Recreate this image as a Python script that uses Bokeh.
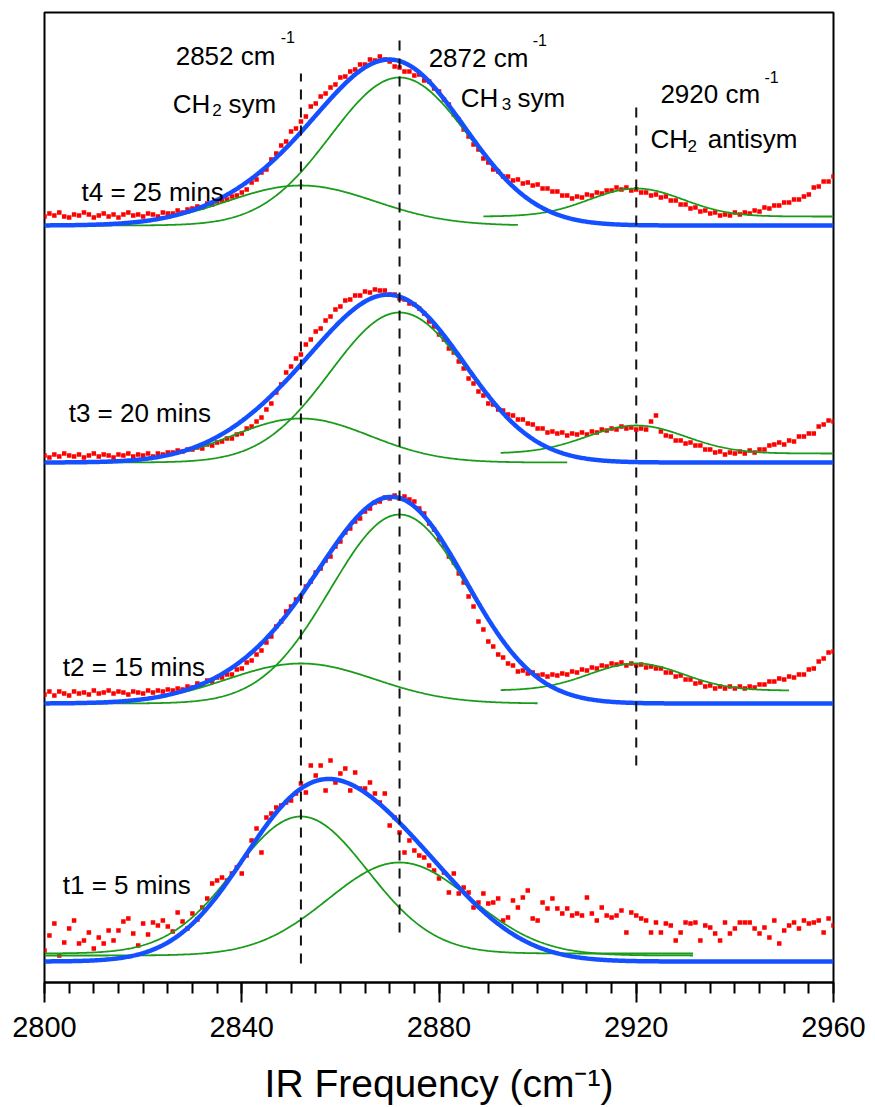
import numpy as np
from bokeh.plotting import figure
from bokeh.models import Range1d, SingleIntervalTicker, Label
from bokeh.embed import file_html
from bokeh.resources import INLINE

# ---------------- data ----------------
freq = list(range(2800, 2961))          # measured frequencies (cm^-1), 1 cm^-1 step

spectra = ["t1 = 5 mins", "t2 = 15 mins", "t3 = 20 mins", "t4 = 25 mins"]
offsets = [21, 279, 520, 757]            # vertical stacking offsets (a.u.)

# measured spectra (a.u. above each offset)
red_t1 = [11, 26, 38, 6, 19, 33, 41, 18, 21, 29, 13, 24, 18, 31,
          21, 31, 40, 43, 28, 16, 38, 27, 39, 36, 41, 35, 30, 49, 40, 33,
          48, 42, 54, 63,
          78, 81, 84, 81, 88, 94, 88, 106, 121, 133, 109, 144, 148, 154, 156, 159,
          161, 168, 178, 169, 196, 186, 196, 171, 201, 179, 188, 193, 171, 189, 173, 173,
          179, 168, 159, 168, 136, 144, 129, 109, 121, 111, 106, 104, 96, 91,
          83, 89, 69, 88, 68, 74, 69, 54, 59, 68,
          58, 59, 63, 41, 44, 61, 54, 64, 71, 43,
          41, 59, 53, 63, 53, 48, 53, 46, 48, 46,
          64, 48, 41, 54, 46, 44, 46, 51, 29, 49,
          46, 43, 41, 29, 39, 29, 38, 36, 21, 29,
          39, 38, 39, 21, 36, 34, 28, 21, 39, 28,
          33, 39, 39, 39, 33, 28, 34, 24, 41, 18,
          31, 36, 39, 33, 41, 38, 39, 41, 29, 43, 36]
red_t2 = [9, 12, 8, 12, 10, 8, 12, 10, 11, 9, 13, 10, 11, 13, 10, 12, 11, 9, 12, 11,
          10, 13, 11, 13, 12, 14, 13, 15, 14, 17,
          16, 20, 19, 23, 22, 26, 26, 29, 29, 34,
          35, 41, 43, 49, 53, 61, 67, 77, 82, 92,
          97, 104, 107, 117, 122, 131, 135, 143, 147, 157,
          162, 171, 175, 182, 185, 192, 195, 201, 202, 206,
          205, 208, 205, 207, 204, 202, 195, 190, 180, 174,
          164, 158, 147, 141, 130, 121, 107, 97, 82, 74,
          62, 57, 49, 46, 40, 38, 32, 33, 30, 31,
          28, 29, 27, 29, 28, 30, 29, 32, 31, 34,
          33, 36, 35, 38, 37, 40, 39, 41, 38, 40,
          38, 39, 36, 37, 35, 35, 31, 31, 27, 28,
          24, 24, 20, 21, 17, 18, 15, 17, 15, 17,
          15, 17, 15, 17, 16, 19, 19, 22, 22, 25,
          24, 27, 26, 29, 29, 34, 35, 42, 45, 51, 52]
red_t3 = [7, 5, 8, 6, 9, 7, 6, 8, 5, 7, 9, 6, 8, 7, 5, 8, 7, 9, 6, 8,
          7, 9, 6, 9, 8, 10, 10, 12, 11, 13,
          13, 15, 14, 18, 17, 20, 21, 24, 24, 28,
          29, 34, 36, 41, 45, 53, 59, 70, 78, 90,
          96, 104, 108, 118, 123, 131, 134, 142, 146, 153,
          156, 162, 163, 167, 167, 171, 170, 173, 172, 172,
          168, 168, 164, 163, 159, 158, 154, 149, 141, 136,
          128, 123, 114, 110, 101, 94, 84, 79, 71, 67,
          59, 58, 53, 52, 48, 47, 43, 43, 39, 38,
          34, 34, 30, 31, 29, 30, 27, 29, 28, 30,
          28, 31, 30, 33, 32, 34, 33, 36, 34, 35,
          33, 34, 33, 41, 47, 31, 27, 26, 22, 22,
          19, 20, 17, 17, 13, 13, 10, 11, 8, 10,
          9, 11, 9, 12, 10, 13, 13, 17, 18, 20,
          18, 22, 21, 26, 26, 29, 29, 36, 38, 42, 41]
red_t4 = [9, 12, 10, 13, 9, 8, 11, 10, 13, 11, 8, 10, 12, 9, 11, 8, 11, 13, 10, 11,
          9, 12, 11, 9, 13, 12, 12, 15, 13, 16,
          17, 19, 18, 22, 21, 24, 25, 26, 29, 30,
          33, 36, 43, 46, 53, 56, 66, 72, 80, 84,
          94, 97, 104, 109, 119, 122, 129, 132, 138, 141,
          148, 149, 154, 156, 161, 161, 166, 165, 169, 166,
          164, 159, 158, 154, 154, 150, 151, 145, 144, 137,
          134, 126, 121, 111, 106, 96, 89, 81, 76, 67,
          63, 56, 54, 49, 49, 45, 46, 42, 43, 40,
          41, 37, 37, 34, 34, 30, 30, 27, 29, 28,
          31, 30, 33, 32, 35, 35, 38, 36, 38, 35,
          36, 33, 33, 30, 31, 28, 29, 25, 25, 21,
          21, 17, 18, 14, 15, 12, 13, 10, 11, 10,
          13, 11, 13, 12, 15, 14, 18, 17, 20, 20,
          23, 23, 26, 26, 29, 31, 38, 39, 44, 44, 49]
red_data = [red_t1, red_t2, red_t3, red_t4]

# fitted Gaussian components (per spectrum t1..t4)
peak_centers = [2852, 2872, 2920]
amp_2852 = [137, 40, 44, 40]
sig_2852 = [13.5, 15, 14, 15]
base_2852 = [8, 0, 0, 0]
end_2852 = [2931.5, 2900, 2906, 2896]
amp_2872 = [93, 189, 150, 148]
sig_2872 = [14.5, 14, 14, 14]
base_2872 = [6, 0, 0, 0]
end_2872 = [2931.5, 2925, 2941, 2950]
amp_2920 = [None, 27, 28, 28]
sig_2920 = [None, 9.5, 10, 9.5]
base_2920 = [None, 13, 9, 9]
start_2920 = [None, 2892.5, 2892.5, 2889]
end_2920 = [None, 2951, 2960, 2960]

# dashed peak markers
marker_x = [2852, 2872, 2920]
marker_top = [909, 942, 882]
marker_bottom = [19, 50, 217]

# annotation texts and their anchor points (data units)
label_positions = [(2803.7, 98), (2803.7, 316), (2804.9, 570), (2807.5, 791)]
peak_texts = [("2852 cm", 2826.6, 927, "26px"), ("-1", 2847.9, 946, "16px"),
              ("CH", 2826.0, 879, "26px"), ("2", 2834.0, 873, "17px"), ("sym", 2837.3, 879, "26px"),
              ("2872 cm", 2877.9, 925, "26px"), ("-1", 2899.0, 943, "16px"),
              ("CH", 2884.4, 885, "26px"), ("3", 2892.7, 879, "17px"), ("sym", 2895.9, 885, "26px"),
              ("2920 cm", 2924.9, 889, "26px"), ("-1", 2946.0, 906, "16px"),
              ("CH", 2922.9, 844, "26px"), ("2", 2930.4, 837, "17px"), ("antisym", 2934.5, 844, "26px")]
x_title = "IR Frequency (cm\u207b\u00b9)"

# ---------------- plot ----------------
FONT = "Liberation Sans"
RED, BLUE, GREEN = "#ff0000", "#1450ff", "#1a9c1a"

p = figure(width=875, height=1107, x_range=Range1d(2800, 2960), y_range=Range1d(0, 970),
           output_backend="svg", toolbar_location=None,
           min_border_left=44, min_border_right=42, min_border_top=12, min_border_bottom=125)
p.yaxis.visible = False
p.xgrid.visible = False
p.ygrid.visible = False
p.outline_line_color = "black"
p.outline_line_width = 2
p.background_fill_color = "white"
p.border_fill_color = "white"

ax = p.xaxis[0]
ax.ticker = SingleIntervalTicker(interval=40, num_minor_ticks=8)
ax.axis_line_width = 2
ax.axis_line_color = "black"
ax.major_tick_in = 0
ax.major_tick_out = 20
ax.major_tick_line_width = 2
ax.minor_tick_in = 0
ax.minor_tick_out = 11
ax.minor_tick_line_width = 2
ax.major_label_text_font = FONT
ax.major_label_text_font_size = "29px"
ax.major_label_text_color = "black"
ax.major_label_standoff = 14
ax.axis_label = x_title
ax.axis_label_text_font = FONT
ax.axis_label_text_font_size = "39px"
ax.axis_label_text_font_style = "normal"
ax.axis_label_text_color = "black"
ax.axis_label_standoff = 22


def gauss(f, amp, cen, sig):
    return amp * np.exp(-(f - cen) ** 2 / (2.0 * sig ** 2))


f_all = np.array(freq, dtype=float)
fine = np.linspace(2800, 2960, 641)

for i in range(4):
    off = offsets[i]
    vals = np.array(red_data[i], dtype=float)
    assert len(vals) == len(f_all), (i, len(vals))
    p.scatter(f_all, vals + off, marker="square", size=4.5, fill_color=RED,
              line_color=None)

for i in range(4):
    off = offsets[i]
    fx = fine[fine <= end_2852[i]]
    p.line(fx, off + base_2852[i] + gauss(fx, amp_2852[i], peak_centers[0], sig_2852[i]),
           line_color=GREEN, line_width=1.8)
    fx = fine[fine <= end_2872[i]]
    p.line(fx, off + base_2872[i] + gauss(fx, amp_2872[i], peak_centers[1], sig_2872[i]),
           line_color=GREEN, line_width=1.8)
    if amp_2920[i] is not None:
        fx = fine[(fine >= start_2920[i]) & (fine <= end_2920[i])]
        p.line(fx, off + base_2920[i] + gauss(fx, amp_2920[i], peak_centers[2], sig_2920[i]),
               line_color=GREEN, line_width=1.8)
    total = gauss(fine, amp_2852[i], peak_centers[0], sig_2852[i]) + \
        gauss(fine, amp_2872[i], peak_centers[1], sig_2872[i])
    p.line(fine, off + total, line_color=BLUE, line_width=4.5)

p.segment(x0=marker_x, y0=marker_bottom, x1=marker_x, y1=marker_top,
          line_color="#111111", line_width=2, line_dash="10 8")

for name, (lx, ly) in zip(spectra, label_positions):
    p.add_layout(Label(x=lx, y=ly, text=name, text_font=FONT, text_font_size="26px",
                       text_baseline="alphabetic", text_align="left", text_color="black"))

for txt, lx, ly, size in peak_texts:
    p.add_layout(Label(x=lx, y=ly, text=txt, text_font=FONT, text_font_size=size,
                       text_baseline="alphabetic", text_align="left", text_color="black"))

open("out.html", "w").write(file_html(p, INLINE))
